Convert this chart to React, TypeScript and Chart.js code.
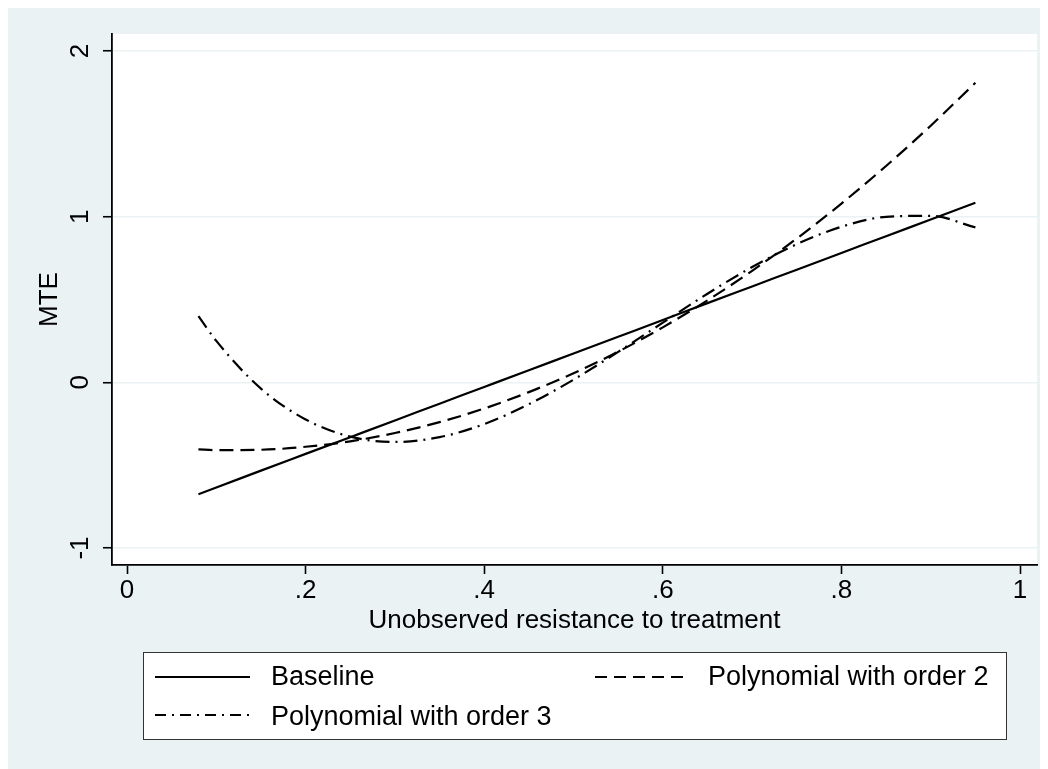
import React, { useEffect, useRef } from 'react';
import { Chart, registerables } from 'chart.js';

Chart.register(...registerables);

// ---- Data ----
const xValues = [0.08, 0.1, 0.15, 0.2, 0.25, 0.3, 0.35, 0.4, 0.45, 0.5, 0.55, 0.6, 0.65, 0.7, 0.75, 0.8, 0.85, 0.9, 0.95];
const baselineValues = [-0.675, -0.635, -0.533, -0.432, -0.331, -0.23, -0.129, -0.028, 0.073, 0.174, 0.275, 0.376, 0.478, 0.579, 0.68, 0.781, 0.882, 0.983, 1.084];
const poly2Values = [-0.405, -0.409, -0.407, -0.389, -0.356, -0.306, -0.24, -0.158, -0.059, 0.055, 0.185, 0.332, 0.495, 0.673, 0.868, 1.079, 1.306, 1.549, 1.808];
const poly3Values = [0.4, 0.25, -0.038, -0.224, -0.328, -0.36, -0.331, -0.252, -0.132, 0.016, 0.184, 0.36, 0.535, 0.696, 0.834, 0.939, 0.999, 1.005, 0.935];

const seriesNames = ['Baseline', 'Polynomial with order 2', 'Polynomial with order 3'];
const xTickValues = [0, 0.2, 0.4, 0.6, 0.8, 1];
const xTickLabels = ['0', '.2', '.4', '.6', '.8', '1'];
const yTickValues = [-1, 0, 1, 2];
const yTickLabels = ['-1', '0', '1', '2'];
const xTitle = 'Unobserved resistance to treatment';
const yTitle = 'MTE';

// ---- Styles ----
const BG = '#EAF2F3';
const FONT_FAMILY = '"Liberation Sans", Arial, sans-serif';
const FONT_SIZE = 26;
const LEGEND_FONT_SIZE = 27;
const PLOT_DASHES: number[][] = [[], [14, 7], [14, 6, 2, 6]];
const LEGEND_DASHES: number[][] = [[], [12, 7], [11, 6, 2, 6]];

const stataPlugin = {
  id: 'stataDecor',
  beforeDraw(chart: any) {
    const { ctx, width, height, chartArea } = chart;
    ctx.save();
    ctx.fillStyle = BG;
    ctx.fillRect(0, 0, width, height);
    ctx.fillStyle = '#ffffff';
    ctx.fillRect(chartArea.left, chartArea.top, chartArea.right - chartArea.left, chartArea.bottom - chartArea.top);
    ctx.restore();
  },
  afterDraw(chart: any) {
    const { ctx } = chart;
    const yScale = chart.scales.y;
    ctx.save();
    // rotated y tick labels
    ctx.fillStyle = '#000';
    ctx.font = `${FONT_SIZE}px ${FONT_FAMILY}`;
    yTickValues.forEach((v, i) => {
      const py = yScale.getPixelForValue(v);
      ctx.save();
      ctx.translate(80, py);
      ctx.rotate(-Math.PI / 2);
      ctx.textAlign = 'center';
      ctx.textBaseline = 'alphabetic';
      ctx.fillText(yTickLabels[i], 0, 0);
      ctx.restore();
    });

    // legend box
    const bx = 135.5, by = 644.5, bw = 863, bh = 87;
    ctx.fillStyle = '#ffffff';
    ctx.fillRect(bx, by, bw, bh);
    ctx.strokeStyle = '#333';
    ctx.lineWidth = 1;
    ctx.setLineDash([]);
    ctx.strokeRect(bx, by, bw, bh);

    ctx.font = `${LEGEND_FONT_SIZE}px ${FONT_FAMILY}`;
    const slots = [
      { lx: 147, ly: 669, tx: 263, ty: 670 },
      { lx: 587, ly: 669, tx: 700, ty: 670 },
      { lx: 147, ly: 707, tx: 263, ty: 710 },
    ];
    seriesNames.forEach((name, i) => {
      const s = slots[i];
      ctx.strokeStyle = '#000';
      ctx.lineWidth = 2;
      ctx.setLineDash(LEGEND_DASHES[i]);
      ctx.beginPath();
      ctx.moveTo(s.lx, s.ly);
      ctx.lineTo(s.lx + 95, s.ly);
      ctx.stroke();
      ctx.setLineDash([]);
      ctx.fillStyle = '#000';
      ctx.textAlign = 'left';
      ctx.textBaseline = 'middle';
      ctx.fillText(name, s.tx, s.ty);
    });
    ctx.restore();
  },
};

export default function App() {
  const canvasRef = useRef<HTMLCanvasElement | null>(null);

  useEffect(() => {
    const canvas = canvasRef.current;
    if (!canvas) return;
    const font = { family: FONT_FAMILY, size: FONT_SIZE };
    const seriesValues = [baselineValues, poly2Values, poly3Values];
    const chart = new Chart(canvas, {
      type: 'line',
      data: {
        datasets: seriesNames.map((name, i) => ({
          label: name,
          data: xValues.map((x, j) => ({ x, y: seriesValues[i][j] })),
          borderColor: '#000',
          backgroundColor: '#000',
          borderWidth: 2.2,
          borderDash: PLOT_DASHES[i],
          pointRadius: 0,
          fill: false,
          cubicInterpolationMode: 'monotone' as const,
        })),
      },
      options: {
        animation: false,
        responsive: false,
        devicePixelRatio: 1,
        layout: { padding: { left: 0, top: 26, right: 11, bottom: 134 } },
        plugins: {
          legend: { display: false },
          tooltip: { enabled: false },
        },
        scales: {
          x: {
            type: 'linear',
            min: -0.0168,
            max: 1.019,
            afterBuildTicks: (s: any) => {
              s.ticks = xTickValues.map((v) => ({ value: v }));
            },
            afterFit: (s: any) => {
              s.height = 71;
            },
            ticks: {
              color: '#000',
              font,
              padding: 1,
              maxRotation: 0,
              minRotation: 0,
              autoSkip: false,
              callback: (_v: any, i: number) => xTickLabels[i],
            },
            grid: {
              drawOnChartArea: false,
              drawTicks: true,
              tickLength: 9,
              tickColor: '#000',
              tickWidth: 1.6,
            },
            border: { display: true, color: '#000', width: 1.8 },
            title: { display: true, text: xTitle, color: '#000', font, padding: { top: 0, bottom: 0 } },
          },
          y: {
            type: 'linear',
            min: -1.1026,
            max: 2.1026,
            afterBuildTicks: (s: any) => {
              s.ticks = yTickValues.map((v) => ({ value: v }));
            },
            afterFit: (s: any) => {
              s.width = 104;
            },
            ticks: { display: false },
            grid: {
              drawOnChartArea: true,
              color: BG,
              lineWidth: 1.5,
              drawTicks: true,
              tickLength: 9,
              tickColor: '#000',
              tickWidth: 1.6,
            },
            border: { display: true, color: '#000', width: 1.8 },
            title: { display: true, text: yTitle, color: '#000', font, padding: { top: 26, bottom: 0 } },
          },
        },
      },
      plugins: [stataPlugin],
    });
    return () => chart.destroy();
  }, []);

  return (
    <div style={{ width: 1040, height: 762 }}>
      <canvas ref={canvasRef} width={1040} height={762} style={{ display: 'block', width: 1040, height: 762 }} />
    </div>
  );
}
